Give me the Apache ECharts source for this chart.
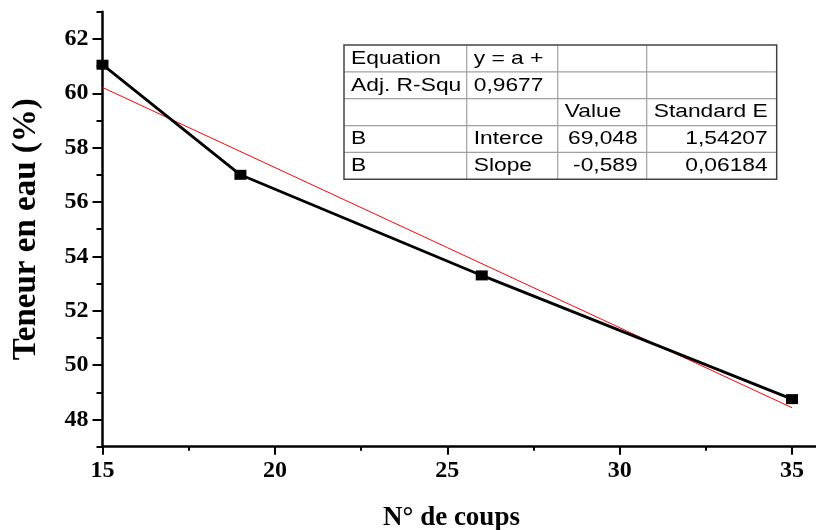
<!DOCTYPE html>
<html>
<head>
<meta charset="utf-8">
<script src="https://cdn.jsdelivr.net/npm/echarts@6/dist/echarts.min.js"></script>
<style>
  html, body { margin: 0; padding: 0; background: #fff; }
  #chart { width: 816px; height: 530px; }
</style>
</head>
<body>
<div id="chart"></div>
<script>
// Blow counts and the measured water content
const blows = [15, 19, 26, 35];
const waterContent = [61.05, 57.0, 53.3, 48.75];

// Linear fit parameters (y = a + b*x) and the x range it covers
const fitIntercept = 69.048;
const fitSlope = -0.589;
const fitRange = [15, 35];

// Fit summary table
const tableRows = [
  ['Equation', 'y = a +', '', ''],
  ['Adj. R-Squ', '0,9677', '', ''],
  ['', '', 'Value', 'Standard E'],
  ['B', 'Interce', '69,048', '1,54207'],
  ['B', 'Slope', '-0,589', '0,06184']
];
const tableAlign = [
  ['left', 'left', 'left', 'left'],
  ['left', 'left', 'left', 'left'],
  ['left', 'left', 'left', 'left'],
  ['left', 'left', 'right', 'right'],
  ['left', 'left', 'right', 'right']
];

const xAxisName = 'N° de coups';
const yAxisName = 'Teneur en eau (%)';

const fitLine = fitRange.map(x => [x, fitIntercept + fitSlope * x]);
const points = blows.map((x, i) => [x, waterContent[i]]);

const serif = '"Liberation Serif", "Times New Roman", serif';
const sans = '"Liberation Sans", Arial, sans-serif';

// table layout
const colX = [344, 466.7, 557.7, 646.7, 776.7];
const rowTop = 45, rowH = 26.86;
const tableEls = [];
tableRows.forEach((row, r) => {
  row.forEach((txt, c) => {
    if (!txt) return;
    const al = tableAlign[r][c];
    tableEls.push({
      type: 'text',
      x: al === 'right' ? colX[c + 1] - 9 : colX[c] + 7,
      y: rowTop + rowH * (r + 0.5),
      scaleX: 1.2,
      style: {
        text: txt, fill: '#000', font: '19px ' + sans,
        align: al, verticalAlign: 'middle'
      }
    });
  });
});
for (let r = 1; r < tableRows.length; r++) {
  tableEls.push({ type: 'line', shape: { x1: colX[0], y1: rowTop + rowH * r, x2: colX[4], y2: rowTop + rowH * r },
    style: { stroke: '#a0a0a0', lineWidth: 1.2 } });
}
for (let c = 1; c < 4; c++) {
  tableEls.push({ type: 'line', shape: { x1: colX[c], y1: rowTop, x2: colX[c], y2: rowTop + rowH * tableRows.length },
    style: { stroke: '#a0a0a0', lineWidth: 1.2 } });
}
tableEls.push({ type: 'rect', shape: { x: colX[0], y: rowTop, width: colX[4] - colX[0], height: rowH * tableRows.length },
  style: { fill: 'none', stroke: '#444', lineWidth: 1.5 } });

const chart = echarts.init(document.getElementById('chart'), null, { renderer: 'canvas' });

const gridLeft = 102.5, gridWidth = 724, gridTop = 11.7, gridBottom = 83.3;
const unitY = (530 - gridTop - gridBottom) / 16;

chart.setOption({
  animation: false,
  backgroundColor: '#fff',
  grid: [
    { left: gridLeft, width: gridWidth, top: gridTop, bottom: gridBottom, outerBoundsMode: 'none', containLabel: false },
    { left: gridLeft, width: gridWidth, top: gridTop + unitY, bottom: gridBottom + unitY, outerBoundsMode: 'none', containLabel: false }
  ],
  xAxis: [
    {
      type: 'value', gridIndex: 0, min: 15, max: 36, interval: 5,
      name: xAxisName, nameLocation: 'middle', nameGap: 58,
      nameTextStyle: { fontFamily: serif, fontWeight: 'bold', fontSize: 27, color: '#000', padding: [0, 26, 0, 0] },
      axisLine: { onZero: false, lineStyle: { color: '#000', width: 2.5 } },
      axisTick: { length: 8, lineStyle: { color: '#000', width: 2 } },
      axisLabel: { margin: 12, fontFamily: serif, fontWeight: 'bold', fontSize: 24, color: '#000', showMaxLabel: false },
      splitLine: { show: false }
    },
    {
      type: 'value', gridIndex: 0, min: 15, max: 36, interval: 2.5, position: 'bottom',
      axisLine: { show: false },
      axisTick: { length: 4, lineStyle: { color: '#000', width: 2 } },
      axisLabel: { show: false },
      splitLine: { show: false }
    },
    {
      type: 'value', gridIndex: 1, min: 15, max: 36, show: false
    }
  ],
  yAxis: [
    {
      type: 'value', gridIndex: 0, min: 47, max: 63, interval: 1,
      name: yAxisName, nameLocation: 'middle', nameGap: 60,
      nameTextStyle: { fontFamily: serif, fontWeight: 'bold', fontSize: 33, color: '#000' },
      axisLine: { onZero: false, lineStyle: { color: '#000', width: 2.5 } },
      axisTick: { length: 6, lineStyle: { color: '#000', width: 2 } },
      axisLabel: { show: false },
      splitLine: { show: false }
    },
    {
      type: 'value', gridIndex: 1, min: 48, max: 62, interval: 2,
      axisLine: { show: false },
      axisTick: { length: 10, lineStyle: { color: '#000', width: 2 } },
      axisLabel: { margin: 14, fontFamily: serif, fontWeight: 'bold', fontSize: 24, color: '#000' },
      splitLine: { show: false }
    }
  ],
  series: [
    {
      type: 'line', xAxisIndex: 0, yAxisIndex: 0, data: fitLine,
      symbol: 'none', lineStyle: { color: '#ff0000', width: 1 }, z: 3
    },
    {
      type: 'line', xAxisIndex: 0, yAxisIndex: 0, data: points,
      symbol: 'rect', symbolSize: [12, 10],
      itemStyle: { color: '#000' },
      lineStyle: { color: '#000', width: 2.8 }, z: 4
    }
  ],
  graphic: [{ type: 'group', children: tableEls, z: 10 }]
});
</script>
</body>
</html>
